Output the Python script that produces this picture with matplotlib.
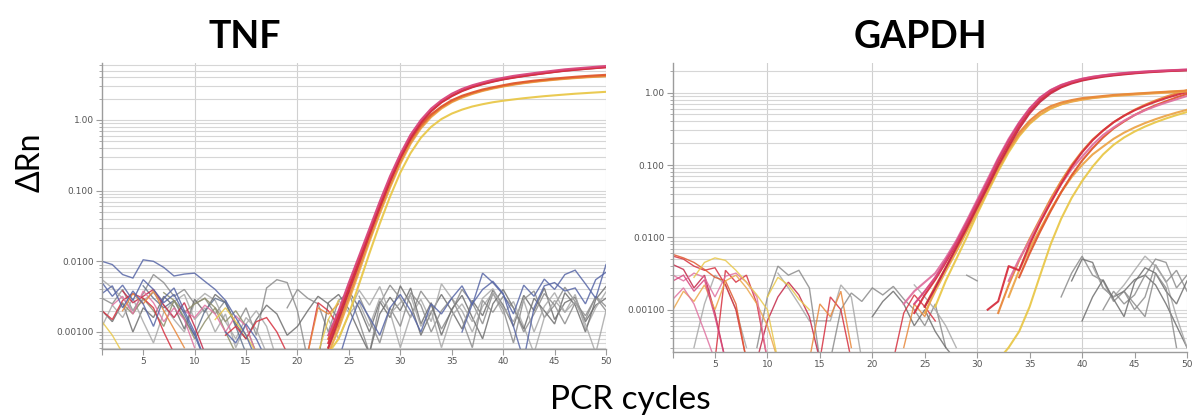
import numpy as np
import matplotlib
matplotlib.use("Agg")
import matplotlib.pyplot as plt
from matplotlib.ticker import LogLocator, NullFormatter

# ---------------- data ----------------
NOISE_UNIT = 1e-3  # noise traces typed in units of 0.001 ΔRn

Y_TICKS = [0.001, 0.01, 0.1, 1.0]
Y_TICK_LABELS = ["0.00100", "0.0100", "0.100", "1.00"]
X_TICKS = [5, 10, 15, 20, 25, 30, 35, 40, 45, 50]
X_TICK_LABELS = ["5", "10", "15", "20", "25", "30", "35", "40", "45", "50"]
PANEL_TITLES = ["TNF", "GAPDH"]

# --- TNF amplification curves (start cycle 23, ΔRn) ---
tnf_amp_start = 23
tnf_magenta = [0.0009, 0.002, 0.005, 0.012, 0.029, 0.07, 0.16, 0.33, 0.62, 1.0, 1.45, 1.9, 2.35, 2.75,
               3.1, 3.4, 3.7, 3.95, 4.2, 4.4, 4.6, 4.8, 5.0, 5.2, 5.35, 5.5, 5.65, 5.8]
tnf_red = [0.0007, 0.0017, 0.0042, 0.010, 0.025, 0.06, 0.14, 0.30, 0.57, 0.93, 1.35, 1.8, 2.2, 2.6,
           2.95, 3.25, 3.52, 3.78, 4.0, 4.2, 4.4, 4.6, 4.8, 5.0, 5.15, 5.3, 5.45, 5.6]
tnf_crimson = [0.0006, 0.0015, 0.0038, 0.0095, 0.024, 0.058, 0.135, 0.29, 0.55, 0.91, 1.33, 1.77, 2.17, 2.56,
               2.9, 3.2, 3.48, 3.74, 3.96, 4.17, 4.37, 4.57, 4.77, 4.96, 5.12, 5.27, 5.42, 5.56]
tnf_orange_red = [0.0008, 0.0018, 0.0045, 0.011, 0.026, 0.062, 0.14, 0.29, 0.53, 0.85, 1.2, 1.55, 1.9, 2.2,
                  2.45, 2.7, 2.9, 3.1, 3.3, 3.45, 3.6, 3.72, 3.85, 3.97, 4.08, 4.18, 4.27, 4.35]
tnf_orange = [0.0006, 0.0013, 0.0032, 0.0082, 0.021, 0.052, 0.12, 0.26, 0.49, 0.8, 1.15, 1.5, 1.83, 2.12,
              2.38, 2.62, 2.83, 3.02, 3.2, 3.36, 3.5, 3.63, 3.75, 3.86, 3.96, 4.05, 4.13, 4.2]
tnf_light_orange = [0.0005, 0.0011, 0.0028, 0.0072, 0.019, 0.047, 0.11, 0.24, 0.46, 0.76, 1.1, 1.45, 1.78, 2.07,
                    2.33, 2.57, 2.78, 2.97, 3.15, 3.31, 3.45, 3.58, 3.7, 3.81, 3.91, 4.0, 4.08, 4.15]
tnf_yellow = [0.0005, 0.0008, 0.0018, 0.0048, 0.013, 0.034, 0.082, 0.18, 0.34, 0.56, 0.8, 1.03, 1.23, 1.4,
              1.55, 1.67, 1.78, 1.87, 1.95, 2.03, 2.1, 2.17, 2.23, 2.29, 2.35, 2.4, 2.45, 2.5]

# --- TNF noise traces: (start cycle, values in 0.001 ΔRn) ---
tnf_blue_1 = (1, [10.0, 9.0, 6.5, 5.8, 10.5, 10.0, 8.2, 6.2, 6.6, 6.8, 5.2, 4.0, 2.8, 1.6, 0.9, 0.4])
tnf_blue_2 = (1, [3.5, 4.5, 2.2, 3.8, 2.5, 1.2, 3.0, 4.2, 2.0, 1.0, 0.4])
tnf_blue_3 = (13, [1.0, 0.7, 1.3, 0.8, 0.4])
tnf_blue_4 = (24, [0.4, 1.2, 2.8, 1.6, 0.9, 2.2, 3.4, 2.0, 1.0, 2.5, 1.8, 3.0, 4.5, 2.4, 6.8, 5.0, 3.4,
                   1.8, 4.6, 3.2, 5.6, 4.0, 6.5, 7.5, 4.8, 3.0, 9.0])
tnf_blue_5 = (36, [1.0, 2.5, 4.0, 5.2, 3.5, 1.2, 0.4, 2.2, 4.5, 5.0, 3.8, 4.2, 2.5, 5.5, 7.0])
tnf_blue_6 = (1, [5.0, 3.2, 4.6, 2.8, 5.5, 4.0, 2.6, 3.4, 1.8, 0.9, 0.4])
tnf_gray_1 = (1, [3.0, 2.5, 4.0, 2.0, 3.5, 6.5, 5.0, 3.2, 4.0, 2.5, 3.0, 1.8, 2.8, 1.2, 2.2, 0.9, 4.2,
                  5.5, 5.0, 2.0, 0.4])
tnf_gray_2 = (1, [5.5, 4.2, 3.0, 2.0, 2.8, 3.6, 2.4, 1.5, 1.0, 2.6, 3.5, 2.8, 1.4, 0.8, 1.6, 1.1, 0.5])
tnf_gray_3 = (1, [2.0, 1.4, 2.6, 1.0, 2.2, 1.6, 3.2, 2.3, 1.1, 2.9, 1.9, 3.4, 2.6, 1.3, 0.8, 1.5, 2.4,
                  1.8, 0.9, 1.2, 2.0, 3.2, 2.5, 1.5, 3.8, 2.2, 1.0, 2.7, 1.6, 4.5, 2.5, 0.9, 1.9, 3.4,
                  2.0, 1.1, 2.8, 1.7, 3.9, 2.4, 1.2, 3.3, 2.0, 4.2, 1.5, 2.6, 3.1, 1.4, 2.4, 3.0])
tnf_gray_4 = (19, [2.2, 4.0, 3.0, 2.5, 1.0, 2.8, 3.6, 1.4, 0.5, 2.5, 4.6, 3.0, 1.6, 3.8, 2.4, 1.1, 2.0,
                   4.0, 2.6, 1.3, 3.5, 2.1, 0.7, 2.9, 3.8, 1.6, 2.4, 4.3, 2.7, 1.5, 3.2, 2.3])
tnf_gray_5 = (23, [1.5, 0.8, 1.8, 2.6, 1.2, 3.0, 1.9, 0.6, 1.7, 2.9, 1.4, 4.8, 3.0, 2.0, 1.0, 2.3, 3.6,
                   1.8, 2.7, 1.2, 0.5, 1.6, 2.8, 1.9, 3.4, 1.1, 2.2, 3.7])
tnf_gray_6 = (22, [0.4, 2.6, 3.4, 2.1, 1.0, 0.5, 1.8, 3.1, 2.0, 4.2, 1.3, 2.6, 0.9, 2.1, 3.3, 1.6, 0.8,
                   2.5, 4.0, 2.2, 1.1, 3.0, 2.0, 1.3, 3.6, 2.4, 1.0, 2.9, 4.4])
tnf_gray_7 = (26, [3.2, 1.5, 0.7, 2.2, 1.2, 3.6, 2.4, 1.0, 2.0, 3.0, 1.5, 0.6, 2.8, 1.9, 3.2, 2.2, 1.0,
                   1.8, 3.5, 2.4, 1.3, 2.6, 1.7, 3.1, 2.0])
tnf_gray_8 = (1, [1.2, 2.4, 1.6, 3.0, 1.4, 0.7, 1.9, 2.7, 3.4, 1.5, 2.2, 1.0, 1.8, 0.6, 1.3, 2.0, 1.2, 0.4])
tnf_gray_9 = (24, [2.8, 1.9, 3.9, 2.4, 4.4, 1.8, 2.6, 3.3, 1.2, 2.0, 0.6, 1.7, 2.5, 1.4, 3.0, 4.1, 2.2,
                   1.4, 2.8, 1.0, 2.3, 3.6, 1.9, 2.7, 1.3, 0.5, 2.0])
tnf_slate = (5, [4.5, 3.0, 2.2, 2.8, 1.5, 0.9, 2.0, 3.0, 2.6, 1.2, 0.5])
tnf_olive = (3, [2.5, 1.8, 3.0, 2.0, 1.2, 2.8, 1.6, 0.8, 1.4, 2.2, 1.0, 0.5])
tnf_olive_2 = (7, [3.6, 2.8, 1.9, 2.5, 3.0, 2.2, 1.4, 2.0, 1.2, 0.5])
tnf_red_early_1 = (1, [2.0, 1.5, 2.8, 3.5, 3.0, 2.2, 1.0, 0.5])
tnf_red_early_2 = (13, [0.9, 1.2, 0.8, 1.4, 1.6, 1.0, 0.5])
tnf_red_early_3 = (21, [0.5, 2.6, 2.0, 1.2])
tnf_red_early_4 = (3, [3.8, 2.6, 3.2, 4.0, 2.4, 1.6, 2.6, 1.2, 0.5])
tnf_pink_early_1 = (2, [2.4, 3.2, 1.8, 3.8, 2.6, 1.4, 2.2, 1.5, 0.6])
tnf_pink_early_2 = (9, [2.0, 1.6, 2.4, 1.8, 1.0, 1.7, 1.2, 0.5])
tnf_orange_early_1 = (3, [2.0, 3.5, 2.5, 3.8, 2.0, 1.1, 0.6])
tnf_orange_early_2 = (21, [0.5, 2.2, 1.8, 2.5])
tnf_yellow_early_1 = (1, [1.4, 0.9, 0.5])
tnf_yellow_early_2 = (12, [1.5, 2.2, 1.4, 0.9, 0.5])
tnf_yellow_early_3 = (22, [0.5, 1.5, 2.8])

# --- GAPDH amplification curves: (start cycle, ΔRn values) ---
gapdh_magenta = (24, [0.0012, 0.0018, 0.0028, 0.0048, 0.0085, 0.016, 0.031, 0.06, 0.12, 0.22, 0.38, 0.6,
                      0.85, 1.08, 1.27, 1.42, 1.55, 1.65, 1.73, 1.8, 1.86, 1.91, 1.95, 1.99, 2.02, 2.05, 2.08])
gapdh_red = (24, [0.0009, 0.0016, 0.0026, 0.0045, 0.008, 0.015, 0.029, 0.056, 0.11, 0.2, 0.35, 0.56,
                  0.8, 1.03, 1.22, 1.38, 1.5, 1.6, 1.69, 1.76, 1.82, 1.87, 1.92, 1.96, 1.99, 2.02, 2.05])
gapdh_pink = (23, [0.0012, 0.0018, 0.0024, 0.0032, 0.0052, 0.009, 0.017, 0.033, 0.064, 0.125, 0.23,
                   0.39, 0.61, 0.86, 1.09, 1.28, 1.43, 1.56, 1.66, 1.74, 1.81, 1.87, 1.92, 1.96, 2.0,
                   2.03, 2.06, 2.09])
gapdh_crimson = (25, [0.0011, 0.002, 0.0038, 0.0072, 0.0135, 0.026, 0.05, 0.098, 0.18, 0.32, 0.52, 0.75,
                      0.98, 1.18, 1.34, 1.47, 1.57, 1.66, 1.73, 1.79, 1.85, 1.9, 1.94, 1.98, 2.01, 2.04])
gapdh_orange = (25, [0.0011, 0.0021, 0.0038, 0.007, 0.013, 0.026, 0.05, 0.095, 0.17, 0.28, 0.41, 0.54,
                     0.65, 0.73, 0.79, 0.84, 0.87, 0.9, 0.93, 0.95, 0.97, 0.99, 1.01, 1.03, 1.05, 1.07])
gapdh_amber = (25, [0.0009, 0.0018, 0.0034, 0.0063, 0.012, 0.023, 0.045, 0.087, 0.16, 0.26, 0.38, 0.5,
                    0.61, 0.69, 0.75, 0.8, 0.84, 0.87, 0.9, 0.92, 0.94, 0.96, 0.98, 1.0, 1.02, 1.04])
gapdh_yellow = (26, [0.0011, 0.0025, 0.005, 0.01, 0.021, 0.042, 0.082, 0.15, 0.25, 0.37, 0.49, 0.6,
                     0.69, 0.76, 0.81, 0.85, 0.88, 0.91, 0.94, 0.96, 0.98, 1.0, 1.02, 1.04, 1.06])
gapdh_late_red = (31, [0.001, 0.0013, 0.004, 0.0035, 0.008, 0.016, 0.03, 0.055, 0.095, 0.15, 0.22, 0.3,
                       0.39, 0.48, 0.57, 0.66, 0.75, 0.84, 0.93, 1.02])
gapdh_late_pink = (33, [0.0025, 0.005, 0.009, 0.017, 0.031, 0.054, 0.088, 0.13, 0.19, 0.26, 0.33, 0.41,
                        0.49, 0.57, 0.65, 0.73, 0.81, 0.9])
gapdh_late_orange = (32, [0.0009, 0.0022, 0.0048, 0.0095, 0.018, 0.034, 0.06, 0.1, 0.155, 0.225, 0.3,
                          0.39, 0.48, 0.58, 0.68, 0.78, 0.88, 0.98, 1.08])
gapdh_late_crimson = (34, [0.0028, 0.006, 0.012, 0.023, 0.042, 0.072, 0.115, 0.17, 0.24, 0.32, 0.4,
                           0.49, 0.58, 0.67, 0.76, 0.86, 0.96])
gapdh_late_amber = (33, [0.0015, 0.0035, 0.007, 0.013, 0.024, 0.042, 0.068, 0.1, 0.14, 0.18, 0.23, 0.28,
                         0.33, 0.38, 0.43, 0.48, 0.53, 0.58])
gapdh_late_yellow = (32, [0.0002, 0.0003, 0.0005, 0.0011, 0.003, 0.008, 0.018, 0.035, 0.06, 0.095, 0.14,
                          0.19, 0.24, 0.29, 0.34, 0.39, 0.44, 0.49, 0.54])

# --- GAPDH noise traces: (start cycle, values in 0.001 ΔRn) ---
gapdh_red_early_1 = (1, [5.5, 5.0, 4.0, 3.5, 3.8, 2.2, 1.0, 0.2])
gapdh_red_early_2 = (5, [0.2, 3.5, 2.4, 3.0, 1.2, 0.2])
gapdh_red_early_3 = (9, [0.2, 0.7, 1.5, 2.4, 1.6, 0.8, 0.2])
gapdh_red_early_4 = (15, [0.2, 1.5, 1.0, 0.2])
gapdh_red_early_5 = (22, [0.2, 0.9, 1.6, 1.1, 0.7])
gapdh_red_early_6 = (1, [4.2, 3.6, 2.0, 3.0, 0.9, 0.2])
gapdh_orange_early_1 = (1, [5.8, 5.2, 4.5, 3.6, 2.8, 2.5, 1.2, 0.2])
gapdh_orange_early_2 = (1, [1.0, 1.8, 1.3, 2.2, 1.0, 2.5, 3.0, 2.0, 1.2, 0.6, 0.2])
gapdh_orange_early_3 = (14, [0.2, 1.2, 0.8, 1.8, 0.3])
gapdh_orange_early_4 = (23, [0.3, 1.2, 0.8, 2.0])
gapdh_pink_early_1 = (1, [3.0, 2.5, 3.2, 2.8, 1.5, 2.9, 3.2, 2.4, 1.5, 0.2])
gapdh_pink_early_2 = (1, [1.4, 2.0, 1.2, 0.5, 0.2])
gapdh_magenta_early = (1, [2.5, 3.0, 1.8, 2.6, 0.8, 0.2])
gapdh_yellow_early_1 = (3, [2.8, 4.5, 5.2, 4.8, 3.5, 2.4, 1.6, 1.0, 0.2])
gapdh_yellow_early_2 = (10, [1.5, 2.8, 2.2, 1.4, 1.0])
gapdh_gray_1 = (9, [0.3, 1.5, 4.0, 3.0, 3.5, 2.0, 0.2])
gapdh_gray_2 = (11, [3.2, 2.0, 1.2, 0.7, 0.7, 0.7, 2.2, 1.5, 0.2])
gapdh_gray_3 = (16, [0.2, 1.0, 1.7, 1.3, 2.0, 1.6, 2.1, 1.4, 1.0, 0.6, 1.2, 0.3])
gapdh_gray_4 = (20, [0.8, 1.3, 1.8, 1.2, 0.6, 1.0, 0.5, 0.3, 0.2])
gapdh_gray_5 = (24, [2.2, 1.5, 1.0, 0.6, 0.3])
gapdh_gray_6 = (29, [3.0, 2.5])
gapdh_gray_7 = (38, [1.5, 3.2, 5.5, 3.0, 2.5, 1.3, 1.8, 1.0, 1.5, 4.2, 2.4, 3.5, 1.8])
gapdh_gray_8 = (39, [2.5, 5.0, 4.5, 2.0, 1.5, 1.8, 2.6, 3.0, 2.2, 1.2, 0.6, 0.3])
gapdh_gray_9 = (41, [4.0, 2.0, 1.5, 2.2, 3.5, 5.5, 4.0, 2.5, 0.8, 0.3])
gapdh_gray_10 = (42, [1.0, 1.8, 1.2, 1.6, 3.0, 5.0, 4.5, 2.0, 3.0])
gapdh_gray_11 = (40, [0.7, 1.5, 2.6, 1.4, 0.8, 2.4, 3.8, 3.2, 1.8, 1.2, 2.5])
gapdh_gray_12 = (44, [1.8, 1.2, 0.8, 3.2, 2.0, 0.3])
gapdh_gray_13 = (3, [0.3, 1.2, 3.0, 2.2, 1.0, 0.3])

# ---------------- colours ----------------
C_MAGENTA = "#d8457c"
C_RED = "#d6303f"
C_CRIMSON = "#c42848"
C_PINK = "#e072a0"
C_ORANGE_RED = "#e0582e"
C_ORANGE = "#e8873a"
C_AMBER = "#eca64a"
C_YELLOW = "#e9c84a"
C_BLUE = "#5766a6"
C_GRAY = "#8c8c8c"
C_GRAY_L = "#a8a8a8"
C_GRAY_D = "#6f6f6f"
C_SLATE = "#657590"
C_OLIVE = "#8f8f6c"

tnf_noise = [
    (tnf_gray_1, C_GRAY), (tnf_gray_2, C_GRAY_L), (tnf_gray_3, C_GRAY_D), (tnf_gray_4, C_GRAY),
    (tnf_gray_5, C_GRAY_L), (tnf_gray_6, C_GRAY_D), (tnf_gray_7, C_GRAY), (tnf_gray_8, C_GRAY_L),
    (tnf_gray_9, C_GRAY_L), (tnf_slate, C_SLATE), (tnf_olive, C_OLIVE), (tnf_olive_2, C_OLIVE),
    (tnf_red_early_1, C_RED), (tnf_red_early_2, C_RED), (tnf_red_early_3, C_RED),
    (tnf_red_early_4, C_CRIMSON), (tnf_pink_early_1, C_PINK), (tnf_pink_early_2, C_PINK),
    (tnf_orange_early_1, C_ORANGE), (tnf_orange_early_2, C_ORANGE), (tnf_yellow_early_1, C_YELLOW),
    (tnf_yellow_early_2, C_YELLOW), (tnf_yellow_early_3, C_YELLOW), (tnf_blue_1, C_BLUE),
    (tnf_blue_2, C_BLUE), (tnf_blue_3, C_BLUE), (tnf_blue_4, C_BLUE), (tnf_blue_5, C_BLUE),
    (tnf_blue_6, C_BLUE),
]
tnf_amp = [
    (tnf_yellow, C_YELLOW), (tnf_light_orange, C_AMBER), (tnf_orange, C_ORANGE),
    (tnf_orange_red, C_ORANGE_RED), (tnf_crimson, C_CRIMSON), (tnf_red, C_RED), (tnf_magenta, C_MAGENTA),
]
gapdh_noise = [
    (gapdh_gray_1, C_GRAY), (gapdh_gray_2, C_GRAY_L), (gapdh_gray_3, C_GRAY), (gapdh_gray_4, C_GRAY_D),
    (gapdh_gray_5, C_GRAY_L), (gapdh_gray_6, C_GRAY), (gapdh_gray_7, C_GRAY), (gapdh_gray_8, C_GRAY_D),
    (gapdh_gray_9, C_GRAY_L), (gapdh_gray_10, C_GRAY), (gapdh_gray_11, C_GRAY_D), (gapdh_gray_12, C_GRAY),
    (gapdh_gray_13, C_GRAY_L),
    (gapdh_red_early_1, C_RED), (gapdh_red_early_2, C_RED), (gapdh_red_early_3, C_CRIMSON),
    (gapdh_red_early_4, C_RED), (gapdh_red_early_5, C_RED), (gapdh_red_early_6, C_CRIMSON),
    (gapdh_orange_early_1, C_ORANGE_RED),
    (gapdh_orange_early_2, C_AMBER), (gapdh_orange_early_3, C_ORANGE), (gapdh_orange_early_4, C_ORANGE),
    (gapdh_pink_early_1, C_PINK), (gapdh_pink_early_2, C_PINK), (gapdh_magenta_early, C_MAGENTA),
    (gapdh_yellow_early_1, C_YELLOW), (gapdh_yellow_early_2, C_YELLOW),
]
gapdh_amp = [
    (gapdh_late_yellow, C_YELLOW), (gapdh_late_amber, C_AMBER), (gapdh_late_orange, C_ORANGE),
    (gapdh_late_crimson, C_ORANGE_RED), (gapdh_late_pink, C_PINK), (gapdh_late_red, C_RED),
    (gapdh_yellow, C_YELLOW), (gapdh_amber, C_AMBER), (gapdh_orange, C_ORANGE),
    (gapdh_crimson, C_CRIMSON), (gapdh_pink, C_PINK), (gapdh_red, C_RED), (gapdh_magenta, C_MAGENTA),
]

# ---------------- figure ----------------
fig = plt.figure(figsize=(11.92, 4.19), dpi=100)
ax1 = fig.add_axes([0.0856, 0.1671, 0.4228, 0.6826])
ax2 = fig.add_axes([0.5646, 0.1599, 0.4312, 0.6897])


def style(ax, ylim):
    ax.set_yscale("log")
    ax.set_xlim(1, 50)
    ax.set_ylim(*ylim)
    ax.set_yticks(Y_TICKS)
    ax.set_yticklabels(Y_TICK_LABELS)
    ax.yaxis.set_minor_locator(LogLocator(base=10, subs=np.arange(2, 10)))
    ax.yaxis.set_minor_formatter(NullFormatter())
    ax.set_xticks([1] + X_TICKS)
    ax.set_xticklabels([""] + X_TICK_LABELS)
    ax.grid(which="both", axis="y", color="#d6d6d6", lw=0.8, zorder=0)
    for xv in X_TICKS[1::2]:
        ax.axvline(xv, color="#d0d0d0", lw=0.8, zorder=0)
    for s in ("top", "right"):
        ax.spines[s].set_visible(False)
    for s in ("left", "bottom"):
        ax.spines[s].set_color("#9c9c9c")
        ax.spines[s].set_linewidth(1.0)
    ax.tick_params(which="major", length=4, width=0.8, color="#9c9c9c",
                   labelsize=6.5, labelcolor="#555555", pad=2)
    ax.tick_params(which="minor", length=2.5, width=0.6, color="#9c9c9c")
    ax.set_axisbelow(True)


def draw_noise(ax, traces):
    for (start, vals), col in traces:
        x = np.arange(start, start + len(vals))
        ax.plot(x, np.array(vals) * NOISE_UNIT, color=col, lw=1.0, alpha=0.85,
                solid_joinstyle="miter", zorder=2)


def draw_amp(ax, traces, start=None):
    for tr, col in traces:
        if start is None:
            s, vals = tr
        else:
            s, vals = start, tr
        x = np.arange(s, s + len(vals))
        ax.plot(x, vals, color=col, lw=1.5, alpha=0.95, zorder=3)


style(ax1, (5.75e-4, 6.4))
style(ax2, (2.6e-4, 2.57))
draw_noise(ax1, tnf_noise)
draw_amp(ax1, tnf_amp, start=tnf_amp_start)
draw_noise(ax2, gapdh_noise)
draw_amp(ax2, gapdh_amp)

FONT = ["Lato", "DejaVu Sans"]
fig.text(0.2055, 0.912, PANEL_TITLES[0], ha="center", va="center", fontsize=27,
         fontweight="bold", family=FONT)
fig.text(0.772, 0.912, PANEL_TITLES[1], ha="center", va="center", fontsize=27,
         fontweight="bold", family=FONT)
fig.text(0.026, 0.613, "ΔRn", ha="center", va="center", rotation=90, fontsize=23, family=FONT)
fig.text(0.5285, 0.045, "PCR cycles", ha="center", va="center", fontsize=24, family=FONT)

fig.savefig("out.png", dpi=100)
